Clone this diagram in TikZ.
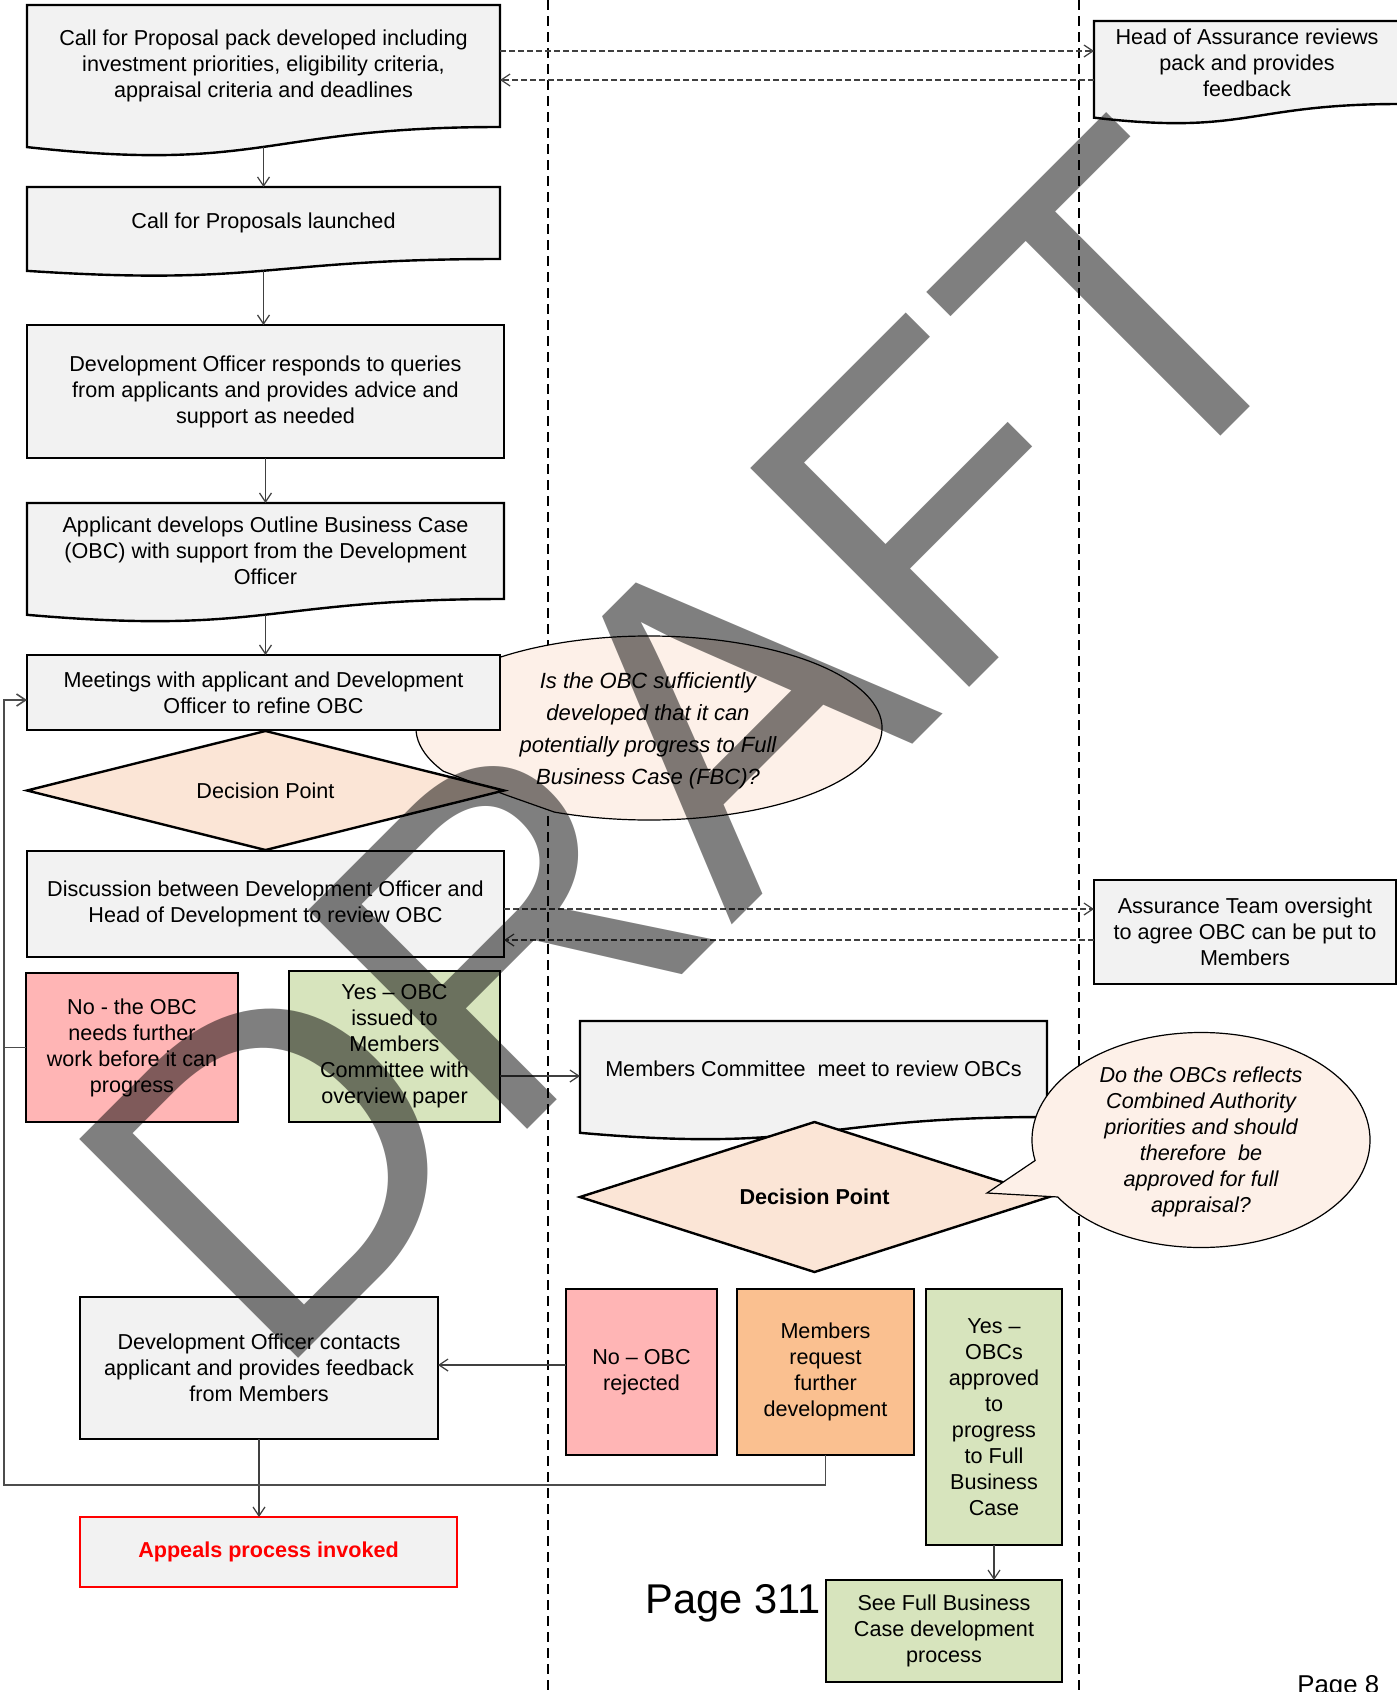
\documentclass[tikz,border=0pt]{standalone}
\usepackage{fontspec}
\setmainfont{Liberation Sans}
\usetikzlibrary{arrows.meta,calc,shapes.geometric}
\definecolor{boxgrey}{HTML}{F2F2F2}
\definecolor{pinkbox}{HTML}{FFB5B5}
\definecolor{greenbox}{HTML}{D7E4BD}
\definecolor{orangebox}{HTML}{FAC090}
\definecolor{peach}{HTML}{FBE5D6}
\definecolor{callfill}{HTML}{FDF0E8}
\pgfdeclarelayer{bg}
\pgfsetlayers{bg,main}
\newcommand\docpath[1]{(#1.north west) -- (#1.north east) -- (#1.south east) .. controls (#1.south) and ($(#1.south)!-0.38!(#1.north)$) .. ($(#1.south west)!-0.1646!(#1.north west)$) -- cycle}
\tikzset{
  mainfs/.style={font=\fontsize{10.8}{13}\selectfont},
  procbox/.style={draw=black, line width=1.2pt, fill=boxgrey, inner sep=0pt, outer sep=0pt, align=center, mainfs},
  docbox/.style={inner sep=0pt, outer sep=0pt, align=center, mainfs},
  docline/.style={draw=black, line width=1.2pt, fill=boxgrey},
  decbox/.style={shape=diamond, aspect=4, draw=black, line width=1.2pt, fill=peach, inner sep=0pt, outer sep=0pt, mainfs},
  conn/.style={draw=black!75, line width=0.6pt, -{Straight Barb[length=4.5pt,width=6pt]}},
  dconn/.style={conn, dash pattern=on 3pt off 1.5pt},
  feedline/.style={draw=black!70, line width=0.8pt},
  lane/.style={draw=black, line width=0.9pt, dash pattern=on 5pt off 3pt},
  bubble/.style={draw=black, line width=0.6pt, fill=callfill},
  bubtext/.style={inner sep=0pt, align=center}
}
\begin{document}
\begin{tikzpicture}[x=0.5pt,y=-0.5pt]
\useasboundingbox (0,0) rectangle (1397,1692);
\coordinate (ya) at (0,51);
\coordinate (yb) at (0,80);
\coordinate (yc) at (0,909);
\coordinate (yd) at (0,940);
\coordinate (ye) at (0,1076);
\coordinate (yf) at (0,1365);
\coordinate (loopt) at (4,700);
\coordinate (loopb) at (4,1485);
\coordinate (laneAt) at (548,0);
\coordinate (laneAb) at (548,1692);
\coordinate (laneBt) at (1079,0);
\coordinate (laneBb) at (1079,1692);

\begin{pgfonlayer}{bg}
\draw[lane] (laneAt) -- (laneAb);
\draw[lane] (laneBt) -- (laneBb);
\draw[bubble] (649,728) ++(152:233 and 92) arc[start angle=152,end angle=474,x radius=233,y radius=92] -- (506,795) -- cycle;
\end{pgfonlayer}

\node[bubtext, font=\fontsize{11}{16}\selectfont\itshape] (q1) at (648,731)
  {Is the OBC sufficiently\\ developed that it can\\ potentially progress to Full\\ Business Case (FBC)?};

\node[docbox, minimum width=236.5pt, minimum height=61pt] (b1) at (263.5,66)
  {Call for Proposal pack developed including\\ investment priorities, eligibility criteria,\\ appraisal criteria and deadlines};
\node[docbox, minimum width=236.5pt, minimum height=36pt] (b2) at (263.5,223)
  {Call for Proposals launched};
\node[procbox, minimum width=238.5pt, minimum height=66.5pt] (b3) at (265.5,391.5)
  {Development Officer responds to queries\\ from applicants and provides advice and\\ support as needed};
\node[docbox, minimum width=238.5pt, minimum height=48pt] (b4) at (265.5,551)
  {Applicant develops Outline Business Case\\ (OBC) with support from the Development\\ Officer};
\node[procbox, minimum width=236.5pt, minimum height=37.5pt] (b5) at (263.5,692.5)
  {Meetings with applicant and Development\\ Officer to refine OBC};
\node[decbox, minimum width=238.5pt, minimum height=59.5pt] (d1) at (265.5,790.5)
  {Decision Point};
\node[procbox, minimum width=238.5pt, minimum height=53pt] (b6) at (265.5,904)
  {Discussion between Development Officer and\\ Head of Development to review OBC};
\node[docbox, minimum width=153pt, minimum height=41.5pt] (bA) at (1247,62.5)
  {Head of Assurance reviews\\ pack and provides\\ feedback};
\node[procbox, minimum width=151pt, minimum height=52pt] (bB) at (1245,932)
  {Assurance Team oversight\\ to agree OBC can be put to\\ Members};
\node[procbox, fill=pinkbox, minimum width=106pt, minimum height=74.5pt] (nored) at (132,1047.5)
  {No - the OBC\\ needs further\\ work before it can\\ progress};
\node[procbox, fill=greenbox, minimum width=105.5pt, minimum height=75.5pt] (yesg) at (394.5,1046.5)
  {Yes -- OBC\\ issued to\\ Members\\ Committee with\\ overview paper};
\node[docbox, minimum width=233.5pt, minimum height=48pt] (mc) at (813.5,1069)
  {Members Committee\ \ meet to review OBCs};
\node[decbox, minimum width=234.5pt, minimum height=75pt, font=\fontsize{10.8}{13}\selectfont\bfseries] (d2) at (814.5,1197)
  {Decision Point};
\node[procbox, minimum width=179pt, minimum height=71pt] (devc) at (259,1368)
  {Development Officer contacts\\ applicant and provides feedback\\ from Members};
\node[procbox, draw=red, text=red, minimum width=188.5pt, minimum height=35pt, font=\fontsize{10.8}{13}\selectfont\bfseries] (appeal) at (268.5,1552)
  {Appeals process invoked};
\node[procbox, fill=pinkbox, minimum width=75.5pt, minimum height=83pt] (norej) at (641.5,1372)
  {No -- OBC\\ rejected};
\node[procbox, fill=orangebox, minimum width=88.5pt, minimum height=83pt] (mreq) at (825.5,1372)
  {Members\\ request\\ further\\ development};
\node[procbox, fill=greenbox, minimum width=68pt, minimum height=128pt] (yes2) at (994,1417)
  {Yes --\\ OBCs\\ approved\\ to\\ progress\\ to Full\\ Business\\ Case};
\node[procbox, fill=greenbox, minimum width=118pt, minimum height=51pt] (seefull) at (944,1631)
  {See Full Business\\ Case development\\ process};

\begin{pgfonlayer}{bg}
\foreach \n in {b1,b2,b4,bA,mc} {\filldraw[docline] \docpath{\n};}
\end{pgfonlayer}

\draw[bubble] (1201,1140) ++(169:169 and 107.5) arc[start angle=169,end angle=508,x radius=169,y radius=107.5] -- (987,1193) -- cycle;
\node[bubtext, font=\fontsize{10.8}{13}\selectfont\itshape] (q2) at (1201,1141.5)
  {Do the OBCs reflects\\ Combined Authority\\ priorities and should\\ therefore\ \ be\\ approved for full\\ appraisal?};

\draw[conn] ($(b1.south)!-0.163!(b1.north)$) -- (b2.north);
\draw[conn] ($(b2.south)!-0.163!(b2.north)$) -- (b3.north -| b2.south);
\draw[conn] (b3.south) -- (b4.north);
\draw[conn] ($(b4.south)!-0.163!(b4.north)$) -- (b5.north -| b4.south);
\draw[dconn] (b1.east |- ya) -- (bA.west |- ya);
\draw[dconn] (bA.west |- yb) -- (b1.east |- yb);
\draw[dconn] (b6.east |- yc) -- (bB.west |- yc);
\draw[dconn] (bB.west |- yd) -- (b6.east |- yd);
\draw[conn] (yesg.east |- ye) -- (mc.west |- ye);
\draw[conn] (norej.west |- yf) -- (devc.east |- yf);
\draw[conn] (devc.south) -- (devc.south |- appeal.north);
\draw[conn] (yes2.south) -- (yes2.south |- seefull.north);
\draw[conn, feedline] (mreq.south) -- (mreq.south |- loopb) -- (loopb) -- (loopt) -- (b5.west |- loopt);
\draw[feedline] (nored.west) -- (nored.west -| loopb);

\node[anchor=base west, inner sep=0pt, font=\fontsize{20.8}{24}\selectfont] (p311) at (645,1613) {Page 311};
\node[anchor=base west, inner sep=0pt, font=\fontsize{12.9}{15}\selectfont] (p8) at (1297,1693) {Page 8};

\node[rotate=45, inner sep=0pt, text=black, text opacity=0.5, font=\fontsize{225}{225}\selectfont] (wm) at (693,745) {DRAFT};
\end{tikzpicture}
\end{document}
